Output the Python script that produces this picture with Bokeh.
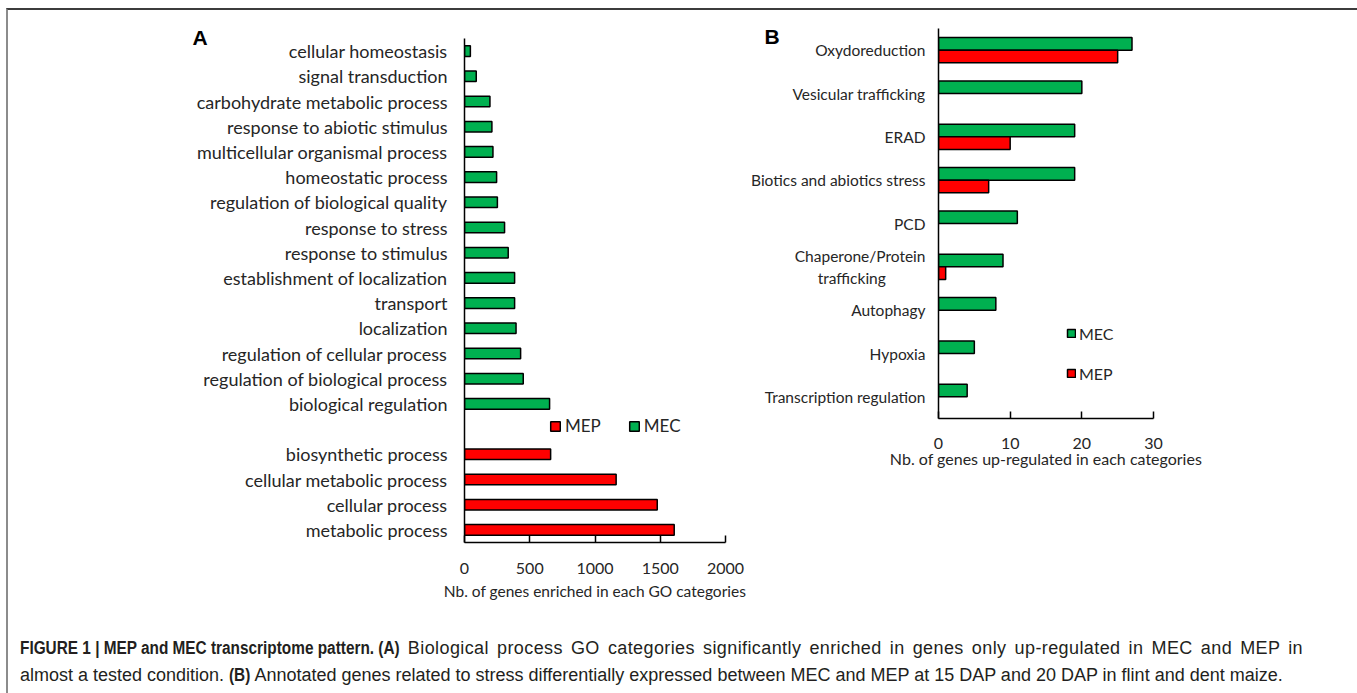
from bokeh.plotting import figure
from bokeh.models import FactorRange, Range1d, Legend, LegendItem, Div, FixedTicker, ColumnDataSource
from bokeh.layouts import row, column
from bokeh.transform import dodge
from bokeh.embed import file_html
from bokeh.resources import INLINE

# ---------------- Panel A data ----------------
go_mec_categories = [
    "cellular homeostasis", "signal transduction", "carbohydrate metabolic process",
    "response to abiotic stimulus", "multicellular organismal process", "homeostatic process",
    "regulation of biological quality", "response to stress", "response to stimulus",
    "establishment of localization", "transport", "localization",
    "regulation of cellular process", "regulation of biological process", "biological regulation",
]
go_mec_counts = [45, 90, 195, 210, 218, 246, 252, 307, 335, 384, 384, 395, 430, 450, 652]
go_mep_categories = ["biosynthetic process", "cellular metabolic process", "cellular process", "metabolic process"]
go_mep_counts = [660, 1162, 1477, 1607]
a_ticks = [0, 500, 1000, 1500, 2000]
a_xlabel = "Nb. of genes enriched in each GO categories"

# ---------------- Panel B data ----------------
stress_categories = [
    "Oxydoreduction", "Vesicular trafficking", "ERAD", "Biotics and abiotics stress", "PCD",
    "Chaperone/Protein\ntrafficking", "Autophagy", "Hypoxia", "Transcription regulation",
]
stress_mec = [27, 20, 19, 19, 11, 9, 8, 5, 4]
stress_mep = [25, 0, 10, 7, 0, 1, 0, 0, 0]
b_ticks = [0, 10, 20, 30]
b_xlabel = "Nb. of genes up-regulated in each categories"

GREEN = "#00B050"
RED = "#FF0000"
TXT = "#262626"
FONT = "Lato"


def shown(c):
    # centre the second line of a two-line label under the first one
    return c + "\u00a0" * 10 if "\n" in c else c


# ---------------- Panel A ----------------
GAP = " "
a_factors = list(reversed(go_mec_categories + [GAP] + go_mep_categories))
pa = figure(width=739, height=602, y_range=FactorRange(*a_factors), x_range=Range1d(0, 2000),
            output_backend="svg", toolbar_location=None, frame_align=False,
            min_border_left=456, min_border_right=22, min_border_top=28, min_border_bottom=70)
src_mec_a = ColumnDataSource(dict(cat=go_mec_categories, val=go_mec_counts))
src_mep_a = ColumnDataSource(dict(cat=go_mep_categories, val=go_mep_counts))
r_mec_a = pa.hbar(y="cat", right="val", left=0, height=0.42, source=src_mec_a,
                  fill_color=GREEN, line_color="black", line_width=1.5)
r_mep_a = pa.hbar(y="cat", right="val", left=0, height=0.42, source=src_mep_a,
                  fill_color=RED, line_color="black", line_width=1.5)

# ---------------- Panel B ----------------
b_cats = [shown(c) for c in stress_categories]
pb = figure(width=606, height=602, y_range=FactorRange(*reversed(b_cats)), x_range=Range1d(0, 30),
            output_backend="svg", toolbar_location=None, frame_align=False,
            min_border_left=191, min_border_right=200, min_border_top=18, min_border_bottom=194)
src_mec_b = ColumnDataSource(dict(cat=b_cats, val=stress_mec))
mep_cats = [c for c, v in zip(b_cats, stress_mep) if v > 0]
mep_vals = [v for v in stress_mep if v > 0]
src_mep_b = ColumnDataSource(dict(cat=mep_cats, val=mep_vals))
r_mec_b = pb.hbar(y=dodge("cat", 0.145, range=pb.y_range), right="val", left=0, height=0.29,
                  source=src_mec_b, fill_color=GREEN, line_color="black", line_width=1.5)
r_mep_b = pb.hbar(y=dodge("cat", -0.145, range=pb.y_range), right="val", left=0, height=0.29,
                  source=src_mep_b, fill_color=RED, line_color="black", line_width=1.5)

for p, ticks, xlabel, tick_std, lab_std in ((pa, a_ticks, a_xlabel, 20, 5), (pb, b_ticks, b_xlabel, 19, 0)):
    p.outline_line_color = None
    p.xgrid.grid_line_color = None
    p.ygrid.grid_line_color = None
    p.background_fill_color = "white"
    p.border_fill_color = "white"
    p.xaxis.ticker = FixedTicker(ticks=ticks)
    p.xaxis.major_tick_in = 7
    p.xaxis.major_tick_out = 0
    p.xaxis.minor_tick_line_color = None
    p.xaxis.axis_line_width = 1.5
    p.xaxis.axis_line_color = "black"
    p.xaxis.major_tick_line_width = 1.5
    p.xaxis.major_tick_line_color = "black"
    p.xaxis.major_label_text_font = FONT
    p.xaxis.major_label_text_font_size = "16px"
    p.xaxis.major_label_text_color = TXT
    p.xaxis.major_label_standoff = tick_std
    p.xaxis.axis_label = xlabel
    p.xaxis.axis_label_text_font = FONT
    p.xaxis.axis_label_text_font_style = "normal"
    p.xaxis.axis_label_text_color = TXT
    p.xaxis.axis_label_standoff = lab_std
    p.yaxis.major_tick_in = 0
    p.yaxis.major_tick_out = 0
    p.yaxis.minor_tick_line_color = None
    p.yaxis.axis_line_width = 1.5
    p.yaxis.axis_line_color = "black"
    p.yaxis.major_label_text_font = FONT
    p.yaxis.major_label_text_color = TXT
    # panel letter as the figure title
    p.title.align = "left"
    p.title.vertical_align = "bottom"
    p.title.text_font = "Liberation Sans"
    p.title.text_font_style = "bold"
    p.title.text_font_size = "21px"
    p.title.text_color = "black"

try:
    pb.xaxis.axis_label_standoff = -3
except Exception:
    pb.xaxis.axis_label_standoff = 0

pa.xaxis.axis_label_text_font_size = "15.5px"
pb.xaxis.axis_label_text_font_size = "16px"
pa.yaxis.major_label_text_font_size = "18px"
pa.yaxis.major_label_standoff = 17
pb.yaxis.major_label_text_font_size = "15.5px"
pb.yaxis.major_label_standoff = 13

pa.title.text = "A"
pa.title.offset = -272
pb.title.text = "B"
pb.title.offset = -174
for p, s in ((pa, -21), (pb, -39)):
    try:
        p.title.standoff = s
    except Exception:
        p.title.standoff = 0

leg_a = Legend(items=[LegendItem(label="MEP", renderers=[r_mep_a]), LegendItem(label="MEC", renderers=[r_mec_a])],
               orientation="horizontal", location=(85, 106), padding=0, margin=0, spacing=27,
               glyph_width=12, glyph_height=12, label_height=20, label_standoff=4,
               label_text_font=FONT, label_text_font_size="17px", label_text_color=TXT,
               border_line_color=None, background_fill_alpha=0)
pa.add_layout(leg_a, "center")

leg_b = Legend(items=[LegendItem(label="MEC", renderers=[r_mec_b]), LegendItem(label="MEP", renderers=[r_mep_b])],
               orientation="vertical", location=(128, 35), padding=0, margin=0, spacing=20,
               glyph_width=10, glyph_height=10, label_height=20, label_standoff=3,
               label_text_font=FONT, label_text_font_size="16px", label_text_color=TXT,
               border_line_color=None, background_fill_alpha=0)
pb.add_layout(leg_b, "center")

# condensed bold heading (scaled horizontally, with the freed width given back)
BOLD_A = ("display: inline-block; font-weight: bold; font-size: 17.5px; transform: scaleX(0.878); "
          "transform-origin: 0 50%; margin-right: -52.7px; letter-spacing: 0;")
BOLD_B = ("display: inline-block; font-weight: bold; font-size: 17.5px; transform: scaleX(0.878); "
          "transform-origin: 0 50%; margin-right: -3px;")
caption_html = (
    '<div style="font-family: \'Liberation Sans\', Arial, sans-serif; font-size: 18px; line-height: 27px; '
    'color: #231f20; padding: 18px 0 0 7px;">'
    '<div style="width: 1283px; text-align: justify; text-align-last: justify; white-space: nowrap;">'
    f'<span style="{BOLD_A}">FIGURE 1 | MEP and MEC transcriptome pattern. (A)</span>'
    '<span style="letter-spacing: 0.4px;"> Biological process GO '
    'categories significantly enriched in genes only up-regulated in MEC and MEP in</span></div>'
    '<div style="white-space: nowrap;">almost a tested condition. '
    f'<span style="{BOLD_B}">(B)</span> Annotated genes '
    'related to stress differentially expressed between MEC and MEP at 15 DAP and 20 DAP in flint and dent maize.'
    '</div></div>'
)
cap = Div(text=caption_html, width=1345, height=78)

layout = column(row(pa, pb), cap,
                styles={"border-top": "2px solid #3c3c3c", "border-left": "2px solid #8c8c8c",
                        "border-right": "2px solid #8c8c8c", "background-color": "white",
                        "margin-left": "6px", "margin-top": "8px"})

open("out.html", "w").write(file_html(layout, INLINE))
